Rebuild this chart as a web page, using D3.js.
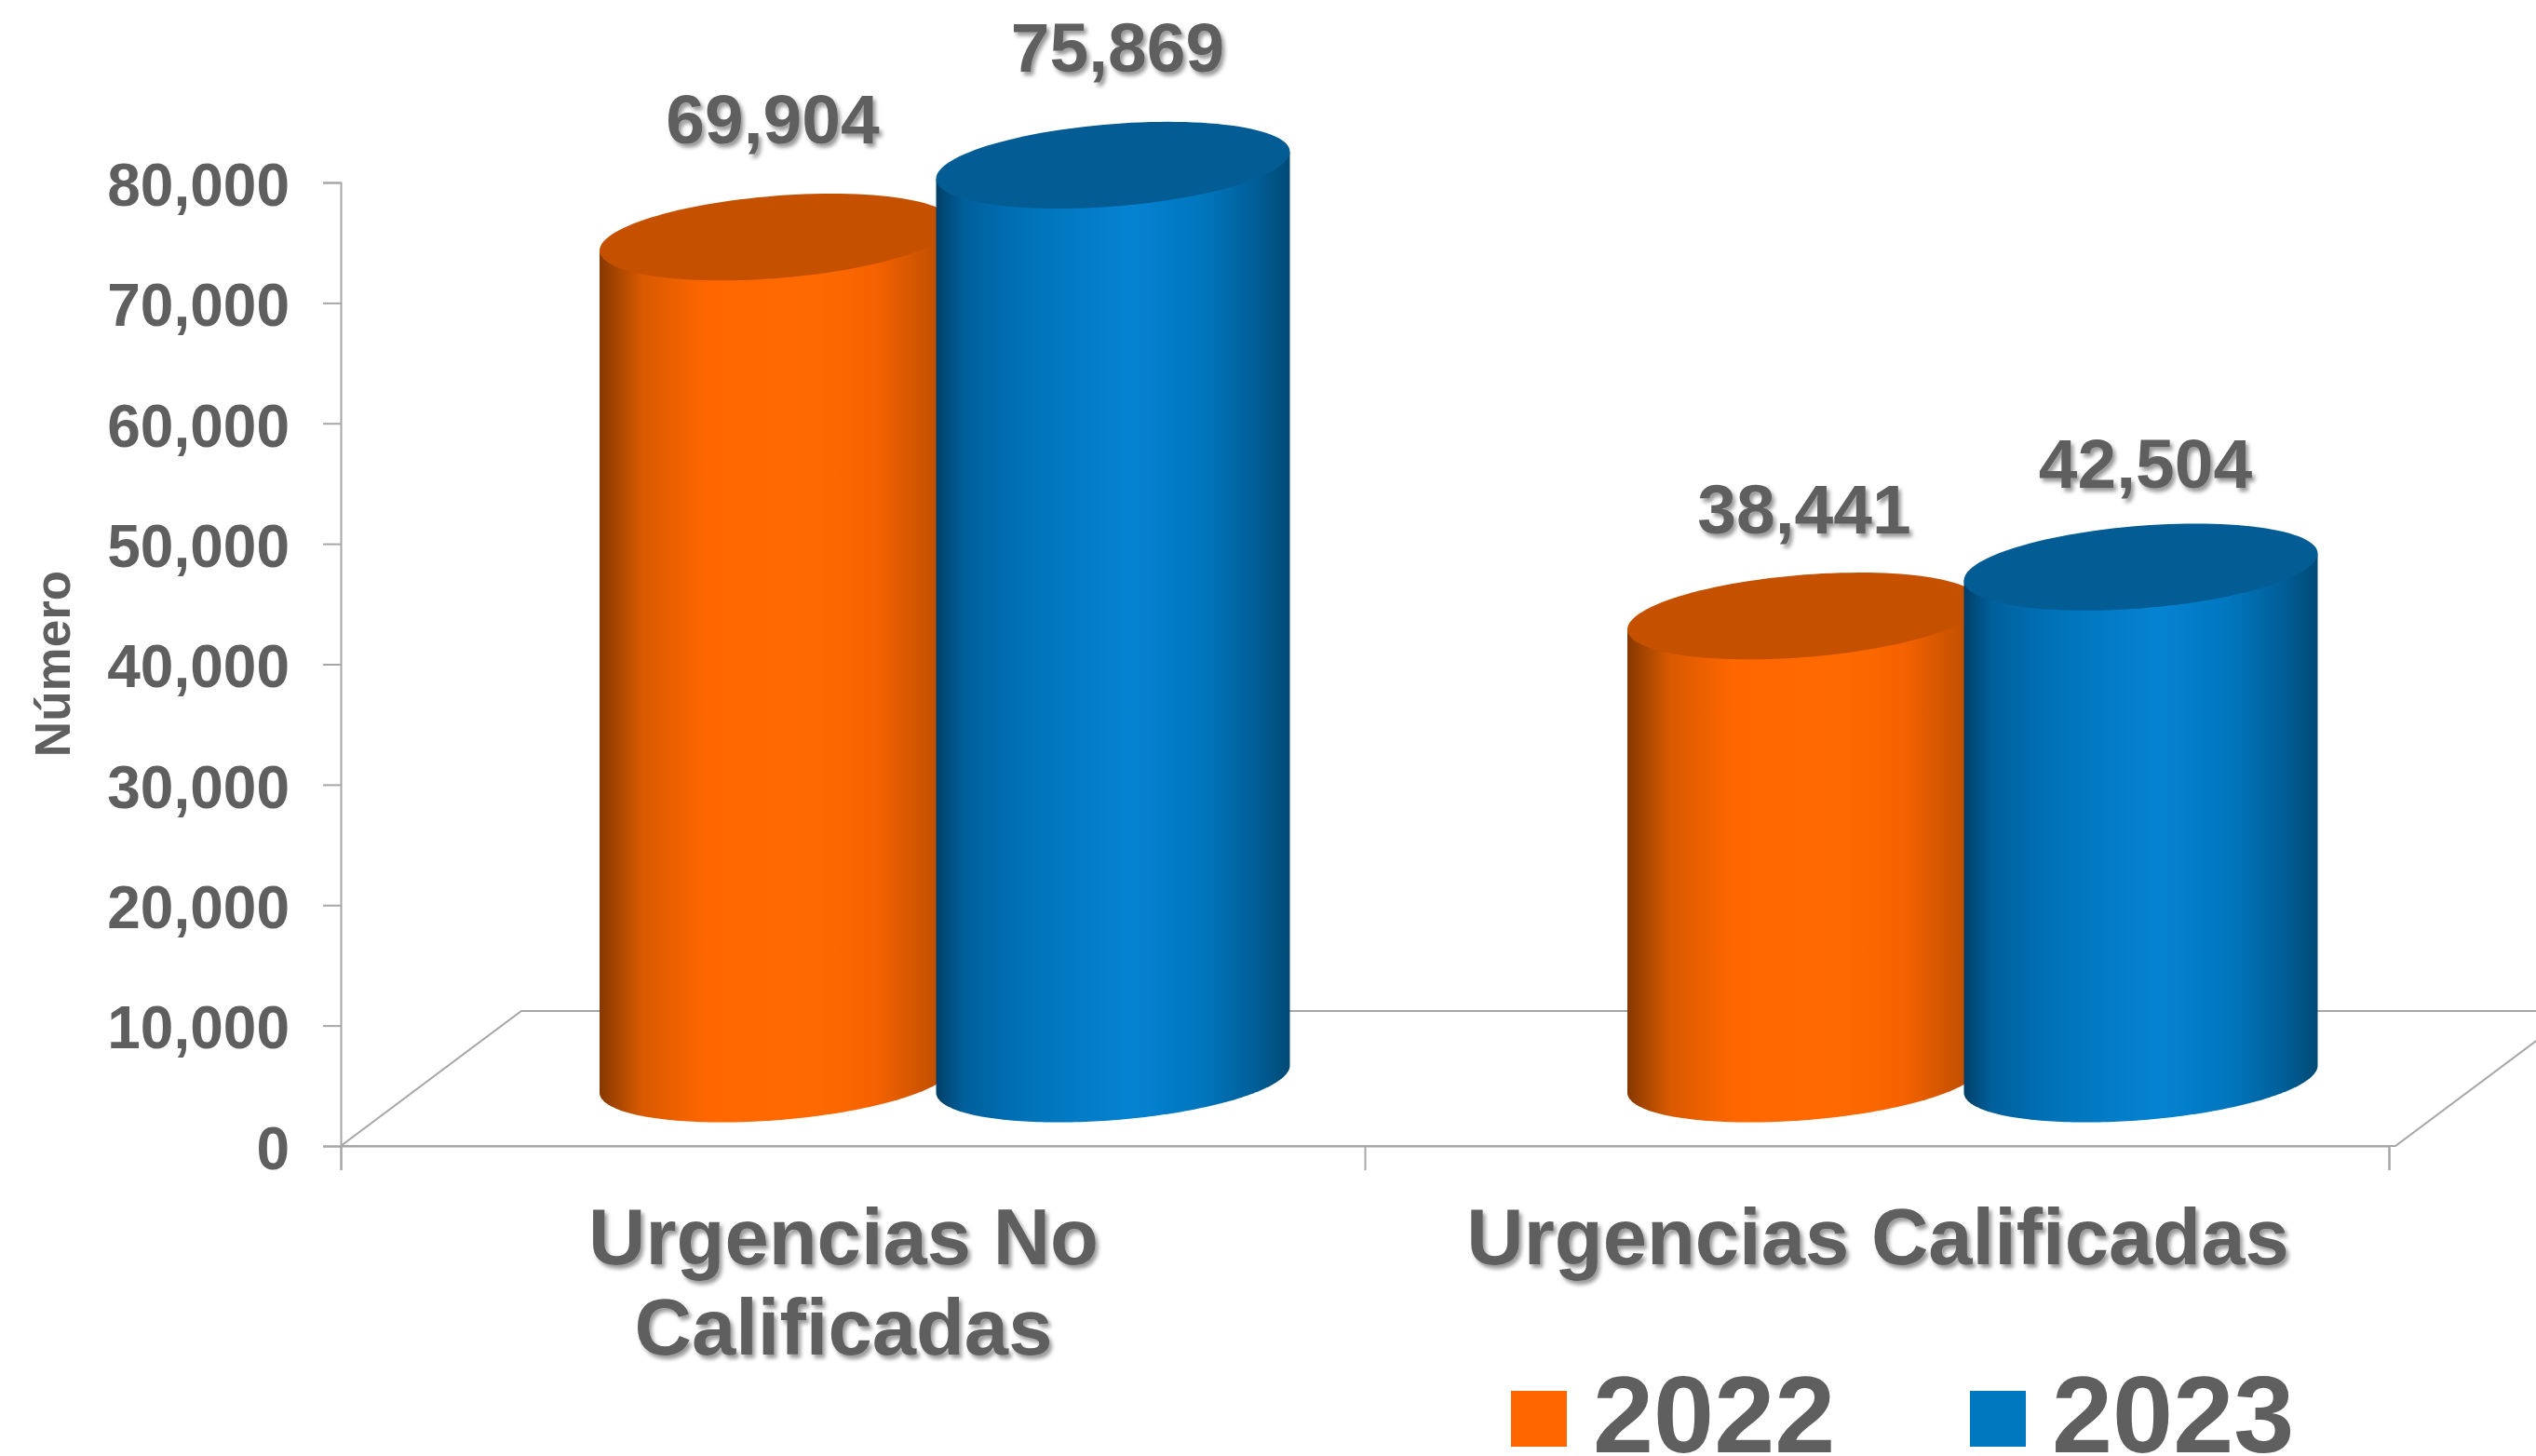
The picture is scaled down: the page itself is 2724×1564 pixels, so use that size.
<!DOCTYPE html>
<html>
<head>
<meta charset="utf-8">
<script src="https://cdn.jsdelivr.net/npm/d3@7"></script>
<style>
    html, body { margin: 0; padding: 0; background: #fff; overflow: hidden; }
    text { font-family: "Liberation Sans", Arial, sans-serif; font-weight: bold; fill: #5f5f5f; }
</style>
</head>
<body>
<div id="chart"></div>
<script>
const categories = [['Urgencias No', 'Calificadas'], ['Urgencias Calificadas']];
const categoryKeys = ['Urgencias No Calificadas', 'Urgencias Calificadas'];
const seriesNames = ['2022', '2023'];
const values2022 = [69904, 38441];
const values2023 = [75869, 42504];
const yTicks = [0, 10000, 20000, 30000, 40000, 50000, 60000, 70000, 80000];

// label nudges per [category][series], the source chart placed these by hand
const labelNudge = [[[-4, 1], [5, 0]], [[0, -11], [5, -15]]];
const categoryNudge = [-10, 1];

const width = 2724;
const height = 1564;
const plot = {left: 366, right: 2566, top: 196, bottom: 1231};
const depth = {dx: 194, dy: 145};

const svg = d3.select('#chart')
    .append('svg')
    .attr('width', width)
    .attr('height', height)
    .attr('viewBox', `0 0 ${width} ${height}`)
    .style('display', 'block');

const defs = svg.append('defs');

const shadow = defs.append('filter')
    .attr('id', 'textShadow')
    .attr('x', '-10%').attr('y', '-10%')
    .attr('width', '120%').attr('height', '130%');
shadow.append('feDropShadow')
    .attr('dx', 3).attr('dy', 4)
    .attr('stdDeviation', 2)
    .attr('flood-color', '#000')
    .attr('flood-opacity', 0.4);

const gradients = {
    '2022': [[0, '#863800'], [0.05, '#a84600'], [0.12, '#d85a00'], [0.3, '#ff6600'], [0.6, '#ff6a00'], [0.78, '#f56200'], [0.95, '#c25000'], [1, '#b04900']],
    '2023': [[0, '#003f68'], [0.08, '#00609c'], [0.25, '#0072b8'], [0.55, '#0583d2'], [0.75, '#0076be'], [0.9, '#005f98'], [1, '#004a75']]
};
const topColor = {'2022': '#c45000', '2023': '#035c94'};
const legendColor = {'2022': '#ff6600', '2023': '#0078bf'};

seriesNames.forEach(s => {
    const g = defs.append('linearGradient').attr('id', `body${s}`);
    gradients[s].forEach(d => {
        g.append('stop').attr('offset', d[0]).attr('stop-color', d[1]);
    });
});

const y = d3.scaleLinear().domain([0, 80000]).range([plot.bottom, plot.top]);
const xOuter = d3.scaleBand().domain(categoryKeys).range([plot.left, plot.right]);
// the cylinders sit a little wider apart than the axis bands
const xBars = d3.scaleBand().domain(categoryKeys).range([364, 2572]);
const xInner = d3.scaleBand().domain(seriesNames).range([280, 1003]);
const xEdges = d3.scaleLinear().domain([0, categoryKeys.length]).range([plot.left, plot.right]);

// floor of the 3d plot
const floor = d3.line();
svg.append('path')
    .attr('d', floor([
        [plot.left, plot.bottom],
        [plot.left + depth.dx, plot.bottom - depth.dy],
        [plot.right + 7 + depth.dx, plot.bottom - depth.dy],
        [plot.right + 7, plot.bottom],
        [plot.left, plot.bottom]
    ]))
    .attr('fill', 'none')
    .attr('stroke', '#a6a6a6')
    .attr('stroke-width', 2);

const yAxis = svg.append('g')
    .attr('transform', `translate(${plot.left},0)`)
    .call(d3.axisLeft(y).tickValues(yTicks).tickSize(19).tickPadding(36).tickFormat(d3.format(',')));
yAxis.selectAll('line, path').attr('stroke', '#a6a6a6').attr('stroke-width', 2);
yAxis.selectAll('text').attr('font-size', 64).attr('dy', '0.38em');
yAxis.attr('font-family', null).attr('font-size', null);

const xAxis = svg.append('g')
    .attr('transform', `translate(0,${plot.bottom})`)
    .call(d3.axisBottom(xEdges).ticks(categoryKeys.length).tickSize(26).tickFormat(''));
xAxis.selectAll('line, path').attr('stroke', '#a6a6a6').attr('stroke-width', 2);
xAxis.attr('font-family', null);

// cylinders
const cyl = {lift: 72, rx: 190, ry: 44.3, tilt: 14.5};
const ellipsePoint = (cx, cy, t) => [
    cx + cyl.rx * Math.cos(t),
    cy - cyl.tilt * Math.cos(t) + cyl.ry * Math.sin(t)
];
const line = d3.line();
const angles = d3.range(0, 121).map(i => i / 120);

function bodyPath(cx, topY, bottomY) {
    const pts = [ellipsePoint(cx, topY, Math.PI)];
    angles.forEach(a => pts.push(ellipsePoint(cx, bottomY, Math.PI - a * Math.PI)));
    pts.push(ellipsePoint(cx, topY, 0));
    return line(pts) + 'Z';
}
function topPath(cx, topY) {
    return line(angles.map(a => ellipsePoint(cx, topY, a * 2 * Math.PI))) + 'Z';
}

const rows = categoryKeys.flatMap((c, i) => [
    {cat: c, i: i, s: '2022', j: 0, value: values2022[i]},
    {cat: c, i: i, s: '2023', j: 1, value: values2023[i]}
]);

const bars = svg.selectAll('g.bar')
    .data(rows)
    .enter()
    .append('g')
    .attr('class', 'bar')
    .each(function(d) {
        d.cx = xBars(d.cat) + xInner(d.s) + cyl.rx;
        d.topY = y(d.value) - cyl.lift;
        d.bottomY = y(0) - cyl.lift;
    });

bars.append('path')
    .attr('d', d => bodyPath(d.cx, d.topY, d.bottomY))
    .attr('fill', d => `url(#body${d.s})`);

bars.append('path')
    .attr('d', d => topPath(d.cx, d.topY))
    .attr('fill', d => topColor[d.s]);

svg.selectAll('text.value')
    .data(rows)
    .enter()
    .append('text')
    .attr('class', 'value')
    .attr('x', d => d.cx + labelNudge[d.i][d.j][0])
    .attr('y', d => d.topY - 100 - labelNudge[d.i][d.j][1])
    .attr('text-anchor', 'middle')
    .attr('font-size', 75)
    .attr('filter', 'url(#textShadow)')
    .text(d => d3.format(',')(d.value));

// category labels
categories.forEach((lines, i) => {
    const cx = xOuter(categoryKeys[i]) + xOuter.bandwidth() / 2 + categoryNudge[i];
    const label = svg.append('text')
        .attr('text-anchor', 'middle')
        .attr('font-size', 85)
        .attr('filter', 'url(#textShadow)');
    lines.forEach((t, k) => {
        label.append('tspan')
            .attr('x', cx)
            .attr('y', 1358 + k * 97)
            .text(t);
    });
});

svg.append('text')
    .attr('transform', 'translate(75,713) rotate(-90)')
    .attr('text-anchor', 'middle')
    .attr('font-size', 53)
    .text('Número');

// legend
const legendX = d3.scaleOrdinal().domain(seriesNames).range([1623, 2116]);
const legend = svg.selectAll('g.legend')
    .data(seriesNames)
    .enter()
    .append('g')
    .attr('class', 'legend')
    .attr('transform', d => `translate(${legendX(d)},0)`);
legend.append('rect')
    .attr('y', 1494)
    .attr('width', 60)
    .attr('height', 60)
    .attr('fill', d => legendColor[d]);
legend.append('text')
    .attr('x', 88)
    .attr('y', 1560)
    .attr('font-size', 117)
    .text(d => d);
</script>
</body>
</html>
